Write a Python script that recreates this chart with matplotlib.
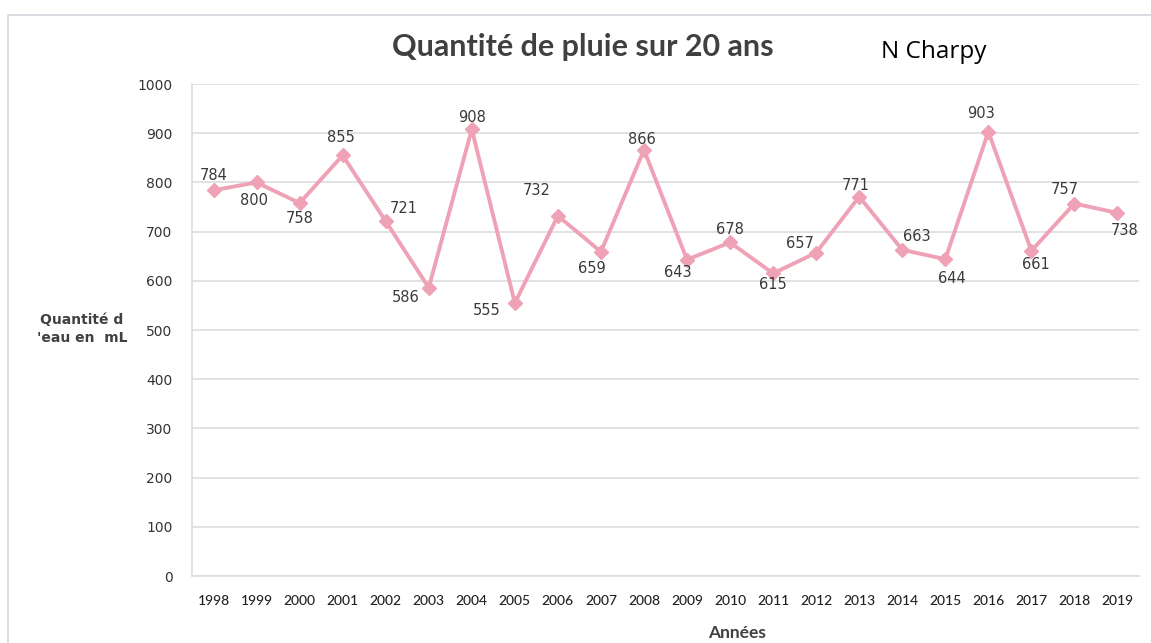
import matplotlib
matplotlib.use("Agg")
import matplotlib.pyplot as plt
from matplotlib.patches import Rectangle

years = ["1998", "1999", "2000", "2001", "2002", "2003", "2004", "2005", "2006", "2007", "2008",
         "2009", "2010", "2011", "2012", "2013", "2014", "2015", "2016", "2017", "2018", "2019"]
rain_ml = [784, 800, 758, 855, 721, 586, 908, 555, 732, 659, 866,
           643, 678, 615, 657, 771, 663, 644, 903, 661, 757, 738]
y_ticks = [0, 100, 200, 300, 400, 500, 600, 700, 800, 900, 1000]

# label offsets in pixels (dx, dy)
label_offsets = [(0, 15), (-3, -18), (0, -15), (-2, 18), (18, 13), (-23, -10), (0, 12),
                 (-28, -8), (-21, 25), (-9, -17), (-2, 10), (-9, -13), (0, 13), (0, -11),
                 (-16, 9), (-3, 11), (15, 13), (7, -19), (-7, 18), (4, -14), (-10, 14), (7, -18)]

W, H = 1151, 643
fig = plt.figure(figsize=(W / 100, H / 100), dpi=100)
fig.patch.set_facecolor("white")

# outer frame
fig.patches.append(Rectangle((8 / W, -0.05), 1.2, (H - 15) / H + 0.05, transform=fig.transFigure,
                             fill=False, edgecolor="#d6d6de", linewidth=1.2))

ax = fig.add_axes([192 / W, 1 - 576 / H, 947 / W, (576 - 84) / H])
x = list(range(len(years)))
ax.plot(x, rain_ml, color="#efa2b6", linewidth=2.8, marker="D", markersize=7,
        markeredgecolor="#efa2b6", markerfacecolor="#efa2b6", zorder=3)

for xi, v, (dx, dy) in zip(x, rain_ml, label_offsets):
    ax.annotate(str(v), (xi, v), xytext=(dx, dy), textcoords="offset pixels",
                ha="center", va="center", fontsize=10.5, color="#3a3a3a",
                family="DejaVu Sans", zorder=4)

ax.set_xlim(-0.5, len(years) - 0.5)
ax.set_ylim(0, 1000)
ax.set_yticks(y_ticks)
ax.set_yticklabels([str(t) for t in y_ticks], fontsize=10, color="#333333", family="DejaVu Sans")
ax.set_xticks(x)
ax.set_xticklabels(years, fontsize=10, color="#222222", family="Lato", fontweight="medium")
ax.tick_params(axis="both", length=0)
ax.tick_params(axis="y", pad=14)
ax.tick_params(axis="x", pad=14)
ax.grid(axis="y", color="#dcdce2", linewidth=1.2)
ax.set_axisbelow(True)
for s in ["top", "right"]:
    ax.spines[s].set_visible(False)
ax.spines["left"].set_color("#dcdce2")
ax.spines["bottom"].set_color("#dcdce2")
ax.spines["left"].set_linewidth(1.2)
ax.spines["bottom"].set_linewidth(1.2)

fig.text(583 / W, 1 - 47 / H, "Quantité de pluie sur 20 ans", ha="center", va="center",
         fontsize=22, fontweight="bold", color="#404040", family="Lato")
fig.text(934 / W, 1 - 52 / H, "N Charpy", ha="center", va="center",
         fontsize=17.5, color="#000000", family="Open Sans")
fig.text(82 / W, 1 - 329 / H, "Quantité d\n'eau en  mL", ha="center", va="center",
         fontsize=10, fontweight="bold", color="#404040", family="DejaVu Sans", linespacing=1.4)
fig.text(737 / W, 1 - 633 / H, "Années", ha="center", va="center",
         fontsize=12.5, fontweight="bold", color="#404040", family="Lato")

fig.savefig("out.png", dpi=100, facecolor="white")
